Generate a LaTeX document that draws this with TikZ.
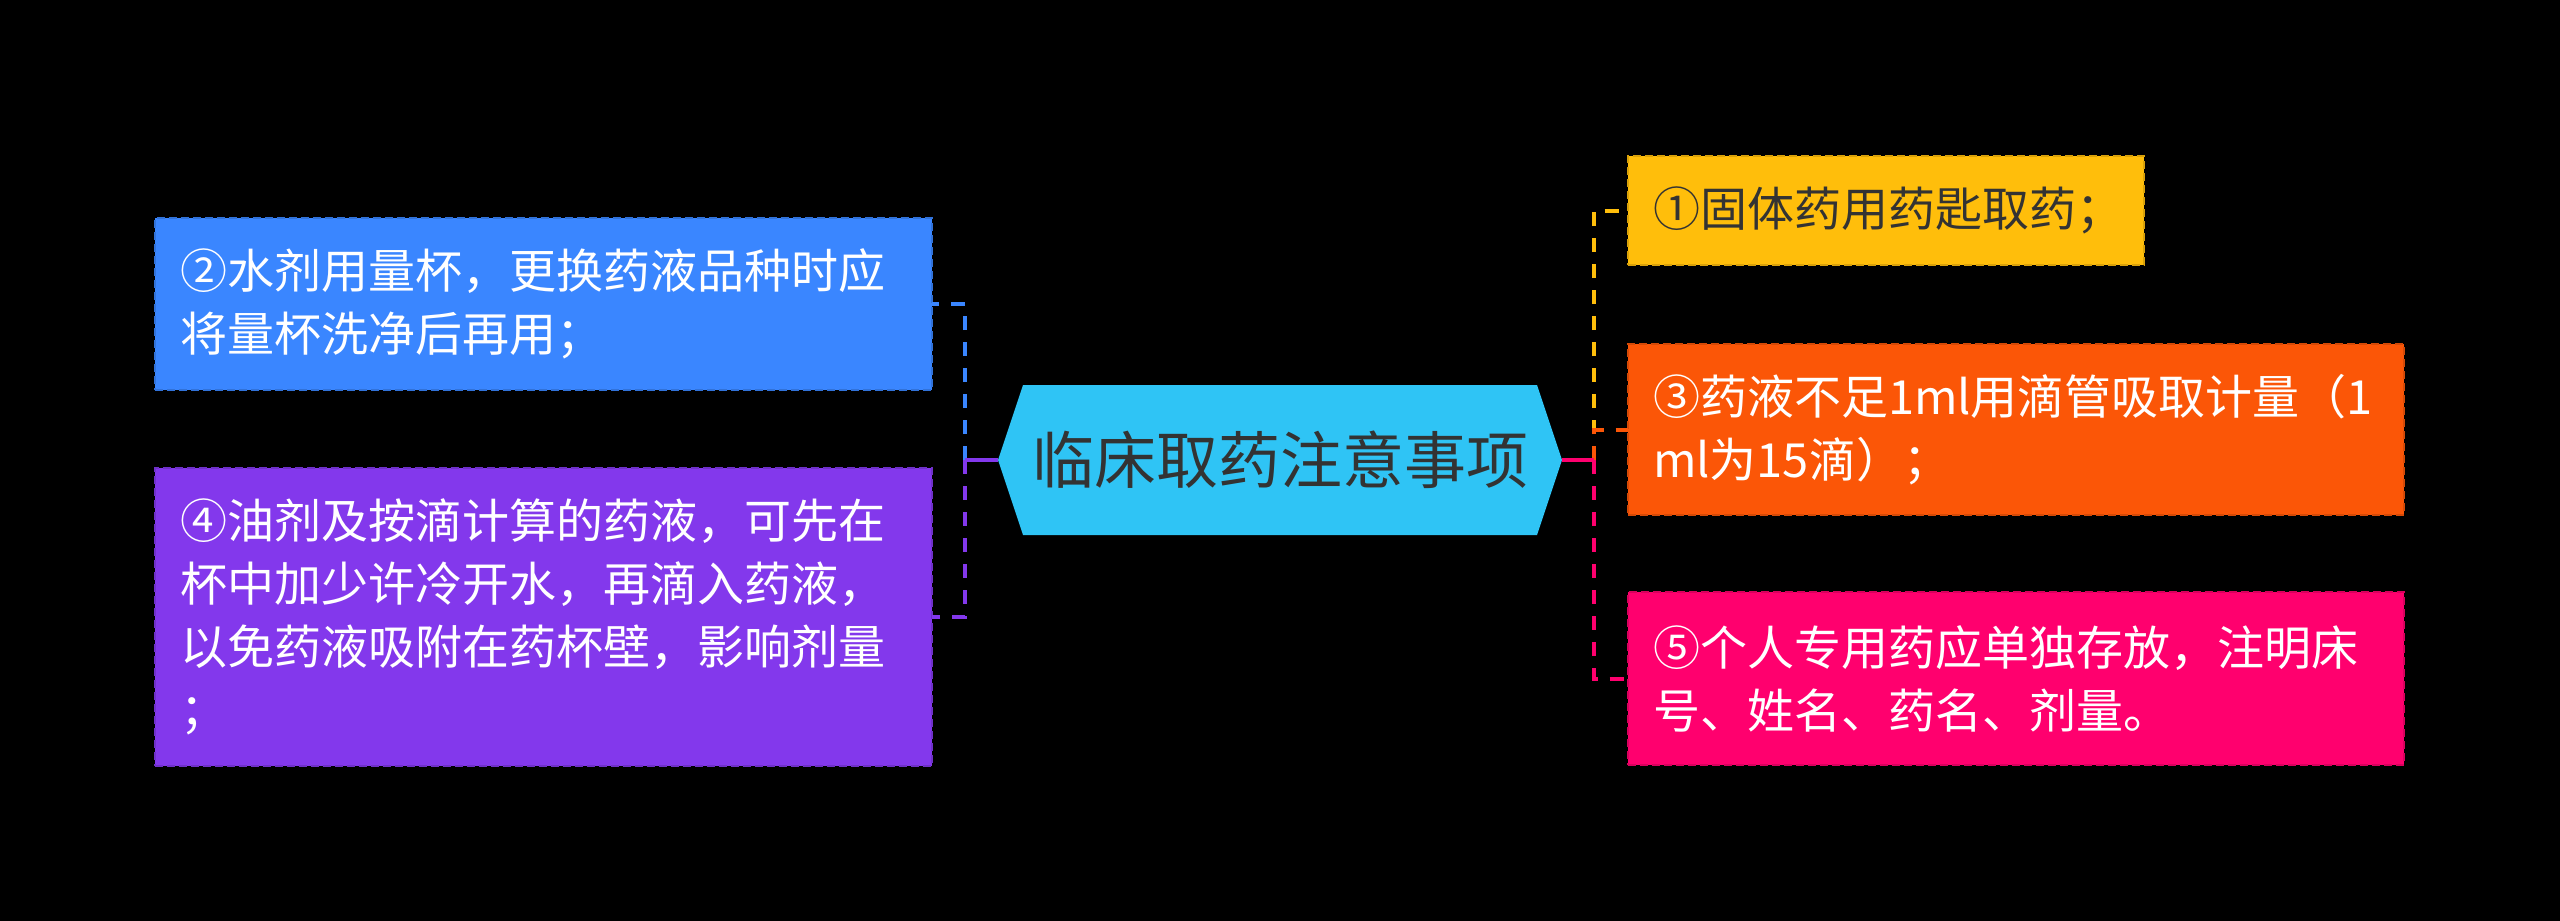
\documentclass[tikz,border=0pt]{standalone}
\usepackage{fontspec}
\setmainfont{Noto Sans CJK SC}
\definecolor{cy}{HTML}{FFBE0B}
\definecolor{co}{HTML}{FB5607}
\definecolor{cp}{HTML}{FF006E}
\definecolor{cv}{HTML}{8338EC}
\definecolor{cb}{HTML}{3A86FF}
\definecolor{croot}{HTML}{2FC4F5}
\definecolor{ctxt}{HTML}{333333}
\pgfdeclarelayer{bg}
\pgfsetlayers{bg,main}
\tikzset{
  leaf/.style={rectangle, inner xsep=25pt, inner ysep=0pt, outer sep=0pt, align=left,
    font=\fontsize{47}{63}\selectfont, line width=2pt, dash pattern=on 8pt off 4pt},
  link/.style={line width=4pt, dash pattern=on 14pt off 12pt},
  rootlink/.style={line width=4pt},
}
\begin{document}
\begin{tikzpicture}[x=1pt,y=-1pt]
\useasboundingbox (0,0) rectangle (2560,921);

% root
\node[minimum width=564pt, minimum height=150pt, inner sep=0pt, outer sep=0pt,
  text=ctxt, font=\fontsize{62}{70}\selectfont] (root) at (1280,460) {临床取药注意事项};
\begin{pgfonlayer}{bg}
\fill[black] (0,0) rectangle (2560,921);
\fill[croot] (root.west) -- ([xshift=25pt]root.north west) -- ([xshift=-25pt]root.north east)
  -- (root.east) -- ([xshift=-25pt]root.south east) -- ([xshift=25pt]root.south west) -- cycle;
\end{pgfonlayer}

% left leaves
\node[leaf, fill=cb, draw=cb!85!black, text=white, text width=727pt, minimum height=172pt] (b2) at (543.5,304)
  {②水剂用量杯，更换药液品种时应\\将量杯洗净后再用；};
\node[leaf, fill=cv, draw=cv!85!black, text=white, text width=727pt, minimum height=298pt] (b4) at (543.5,617)
  {④油剂及按滴计算的药液，可先在\\杯中加少许冷开水，再滴入药液，\\以免药液吸附在药杯壁，影响剂量\\；};

% right leaves
\node[leaf, fill=cy, draw=cy!85!black, text=ctxt, text width=466pt, minimum height=109pt] (b1) at (1886,210.5)
  {①固体药用药匙取药；};
\node[leaf, fill=co, draw=co!85!black, text=white, text width=726pt, minimum height=171pt] (b3) at (2016,429.5)
  {③药液不足1ml用滴管吸取计量（1\\ml为15滴）；};
\node[leaf, fill=cp, draw=cp!85!black, text=white, text width=726pt, minimum height=173pt] (b5) at (2016,678.5)
  {⑤个人专用药应单独存放，注明床\\号、姓名、药名、剂量。};

% junctions
\coordinate (jl) at (965,460);
\coordinate (jr) at (1594,460);

% connectors left
\draw[link, cb] (jl) |- (b2.east);
\draw[link, cv] (jl) |- (b4.east);
\draw[rootlink, cv] (root.west) -- (jl);

% connectors right
\draw[link, cy] (jr) |- (b1.west);
\draw[link, co] (jr) |- (b3.west);
\draw[link, cp] (jr) |- (b5.west);
\draw[rootlink, cp] (root.east) -- (jr);
\end{tikzpicture}
\end{document}
